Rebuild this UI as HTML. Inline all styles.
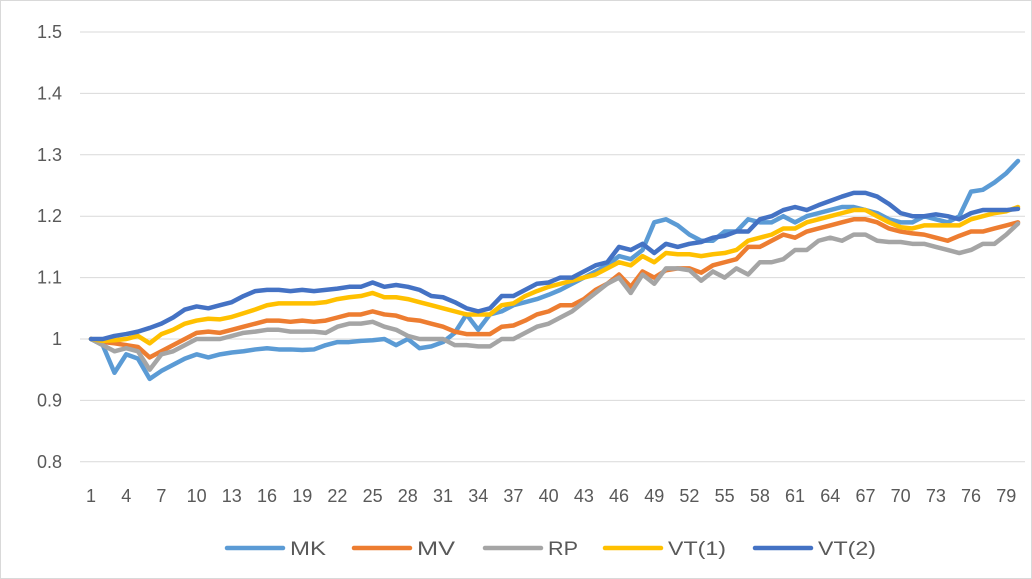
<!DOCTYPE html>
<html><head><meta charset="utf-8"><style>
body{margin:0;background:#fff;}
svg{display:block;font-family:"Liberation Sans",sans-serif;}
</style></head><body>
<svg id="chart" width="1032" height="579">
<rect x="0.5" y="0.5" width="1031" height="578" fill="#fff" stroke="#d9d9d9"/>
<g id="grid"></g><g id="xlabels"></g><g id="lines"></g><g id="legend"></g>
</svg>
<script>
const categories = Array.from({length:80},(_,i)=>i+1);
const yTicks = [0.8,0.9,1,1.1,1.2,1.3,1.4,1.5];
const seriesNames = ["MK","MV","RP","VT(1)","VT(2)"];
const seriesColors = ["#5b9bd5","#ed7d31","#a5a5a5","#ffc000","#4472c4"];
const MK = [1.0,.99,.945,.975,.968,.935,.948,.958,.968,.975, .97,.975,.978,.98,.983,.985,.983,.983,.982,.983, .99,.995,.995,.997,.998,1.0,.99,1.0,.985,.988, .995,1.01,1.04,1.015,1.04,1.045,1.055,1.06,1.065,1.072, 1.08,1.09,1.10,1.11,1.12,1.135,1.13,1.145,1.19,1.195, 1.185,1.17,1.16,1.16,1.175,1.175,1.195,1.19,1.19,1.20, 1.19,1.20,1.205,1.21,1.215,1.215,1.21,1.205,1.195,1.19, 1.19,1.20,1.195,1.19,1.20,1.24,1.243,1.255,1.27,1.29];
const MV = [1.0,.995,.993,.99,.987,.97,.98,.99,1.0,1.01, 1.012,1.01,1.015,1.02,1.025,1.03,1.03,1.028,1.03,1.028, 1.03,1.035,1.04,1.04,1.045,1.04,1.038,1.032,1.03,1.025, 1.02,1.012,1.008,1.008,1.008,1.02,1.022,1.03,1.04,1.045, 1.055,1.055,1.065,1.08,1.09,1.105,1.085,1.11,1.1,1.112, 1.115,1.115,1.108,1.12,1.125,1.13,1.15,1.15,1.16,1.17, 1.165,1.175,1.18,1.185,1.19,1.195,1.195,1.19,1.18,1.175, 1.172,1.17,1.165,1.16,1.168,1.175,1.175,1.18,1.185,1.19];
const RP = [1.0,.99,.98,.985,.98,.95,.975,.98,.99,1.0, 1.0,1.0,1.005,1.01,1.012,1.015,1.015,1.012,1.012,1.012, 1.01,1.02,1.025,1.025,1.028,1.02,1.015,1.005,1.0,1.0, 1.0,.99,.99,.988,.988,1.0,1.0,1.01,1.02,1.025, 1.035,1.045,1.06,1.075,1.09,1.1,1.075,1.105,1.09,1.115, 1.115,1.112,1.095,1.11,1.1,1.115,1.105,1.125,1.125,1.13, 1.145,1.145,1.16,1.165,1.16,1.17,1.17,1.16,1.158,1.158, 1.155,1.155,1.15,1.145,1.14,1.145,1.155,1.155,1.17,1.188];
const VT1 = [1.0,.997,.998,1.0,1.005,.993,1.008,1.015,1.025,1.03, 1.033,1.032,1.036,1.042,1.048,1.055,1.058,1.058,1.058,1.058, 1.06,1.065,1.068,1.07,1.075,1.068,1.068,1.065,1.06,1.055, 1.05,1.045,1.04,1.04,1.04,1.055,1.058,1.07,1.078,1.085, 1.09,1.095,1.1,1.105,1.115,1.125,1.12,1.135,1.125,1.14, 1.138,1.138,1.135,1.138,1.14,1.145,1.16,1.165,1.17,1.18, 1.18,1.19,1.195,1.2,1.205,1.21,1.21,1.2,1.19,1.182, 1.18,1.185,1.185,1.185,1.185,1.195,1.2,1.205,1.208,1.215];
const VT2 = [1.0,1.0,1.005,1.008,1.012,1.018,1.025,1.035,1.048,1.053, 1.05,1.055,1.06,1.07,1.078,1.08,1.08,1.078,1.08,1.078, 1.08,1.082,1.085,1.085,1.092,1.085,1.088,1.085,1.08,1.07, 1.068,1.06,1.05,1.045,1.05,1.07,1.07,1.08,1.09,1.092, 1.1,1.1,1.11,1.12,1.125,1.15,1.145,1.155,1.14,1.155, 1.15,1.155,1.158,1.165,1.168,1.175,1.175,1.195,1.2,1.21, 1.215,1.21,1.218,1.225,1.232,1.238,1.238,1.232,1.22,1.205, 1.2,1.2,1.203,1.2,1.195,1.205,1.21,1.21,1.21,1.212];
const allSeries = [MK,MV,RP,VT1,VT2];

const NS="http://www.w3.org/2000/svg";
const X0=91, X1=1018, PL=80, PR=1025;
const xs=i=>X0+(X1-X0)*i/(categories.length-1);
const ys=v=>339-(v-1)*614;
function mk(tag,attrs,parent){const e=document.createElementNS(NS,tag);for(const k in attrs)e.setAttribute(k,attrs[k]);parent.appendChild(e);return e;}
const grid=document.getElementById('grid');
yTicks.forEach(t=>{
  const l=mk('line',{x1:PL,x2:PR,y1:ys(t),y2:ys(t),stroke:'#d9d9d9','stroke-width':1},grid);
  
  
  const tx=mk('text',{x:62,y:ys(t)+6,'text-anchor':'end','font-size':18,fill:'#595959'},grid);
  tx.textContent=String(t);
  
  
});
const xl=document.getElementById('xlabels');
categories.forEach((c,i)=>{
  if(i%3!==0)return;
  const tx=mk('text',{x:xs(i),y:502,'text-anchor':'middle','font-size':18,fill:'#595959'},xl);
  tx.textContent=String(c);
  
  
});
const lg=document.getElementById('lines');
allSeries.forEach((s,k)=>{
  const p=mk('polyline',{points:s.map((v,i)=>xs(i)+','+ys(v)).join(' '),fill:'none',stroke:seriesColors[k],'stroke-width':4.5,'stroke-linejoin':'round','stroke-linecap':'round'},lg);
  
  
});
const leg=document.getElementById('legend');
const legX=[225,352,483,603,753];
const legW=[36,38,30,58,58];
seriesNames.forEach((n,k)=>{
  const g=mk('g',{},leg);
  
  
  mk('line',{x1:legX[k]+2,x2:legX[k]+58,y1:548,y2:548,stroke:seriesColors[k],'stroke-width':4.5,'stroke-linecap':'round'},g);
  const t=mk('text',{x:legX[k]+65,y:555,'font-size':19,fill:'#595959',textLength:legW[k],lengthAdjust:'spacingAndGlyphs'},g);
  t.textContent=n;
});
</script>
</body></html>
